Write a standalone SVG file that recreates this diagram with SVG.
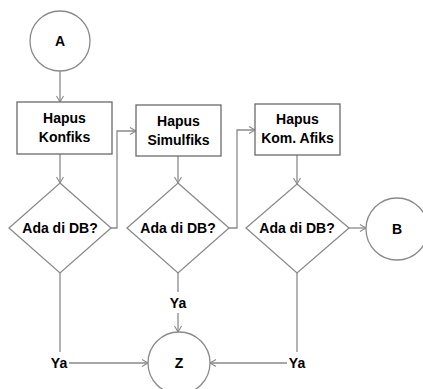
<svg xmlns="http://www.w3.org/2000/svg" width="423" height="389" viewBox="0 0 423 389">
<defs>
<style>
.t{font-family:"Liberation Sans",Arial,sans-serif;font-weight:bold;font-size:14px;fill:#000;text-anchor:middle}
.sh{fill:#fff;stroke:#8a8a8a;stroke-width:1.3}
.bx{fill:#fff;stroke:#6a6a6a;stroke-width:1.3}
.c{fill:none;stroke:#8a8a8a;stroke-width:1.3}
</style>
<marker id="ah" markerUnits="userSpaceOnUse" markerWidth="10" markerHeight="10" refX="7" refY="4" orient="auto">
<path d="M1,0.5 L7,4 L1,7.5" fill="none" stroke="#8a8a8a" stroke-width="1.1"/>
</marker>
</defs>
<rect width="423" height="389" fill="#fff"/>
<g id="connectors">
<line class="c" x1="60" y1="71" x2="60" y2="102" marker-end="url(#ah)"/>
<line class="c" x1="60" y1="154" x2="60" y2="183" marker-end="url(#ah)"/>
<polyline class="c" points="111,228 117,228 117,131 136,131" marker-end="url(#ah)"/>
<line class="c" x1="178" y1="156" x2="178" y2="183" marker-end="url(#ah)"/>
<polyline class="c" points="229,228 237,228 237,130 255,130" marker-end="url(#ah)"/>
<line class="c" x1="297" y1="155" x2="297" y2="184" marker-end="url(#ah)"/>
<line class="c" x1="349" y1="228" x2="366" y2="228" marker-end="url(#ah)"/>
<line class="c" x1="60" y1="273" x2="60" y2="352"/>
<line class="c" x1="69" y1="363" x2="148" y2="363" marker-end="url(#ah)"/>
<line class="c" x1="178" y1="273" x2="178" y2="292"/>
<line class="c" x1="178" y1="313" x2="178" y2="332" marker-end="url(#ah)"/>
<line class="c" x1="297" y1="273" x2="297" y2="352"/>
<line class="c" x1="287" y1="363" x2="210" y2="363" marker-end="url(#ah)"/>
</g>
<g id="A">
<circle class="sh" cx="60" cy="41" r="30"/>
<text class="t" x="60" y="46">A</text>
</g>
<g id="hapus-konfiks">
<rect class="bx" x="17" y="102" width="95" height="52"/>
<text class="t" x="64.5" y="123">Hapus</text>
<text class="t" x="64.5" y="142">Konfiks</text>
</g>
<g id="hapus-simulfiks">
<rect class="bx" x="136" y="105" width="85" height="51"/>
<text class="t" x="178.5" y="126">Hapus</text>
<text class="t" x="178.5" y="145">Simulfiks</text>
</g>
<g id="hapus-kom-afiks">
<rect class="bx" x="255" y="104" width="85" height="51"/>
<text class="t" x="297.5" y="124">Hapus</text>
<text class="t" x="297.5" y="143">Kom. Afiks</text>
</g>
<g id="db1">
<polygon class="sh" points="60,183 111,228 60,273 9,228"/>
<text class="t" x="60" y="233">Ada di DB?</text>
</g>
<g id="db2">
<polygon class="sh" points="178,183 229,228 178,273 127,228"/>
<text class="t" x="178" y="233">Ada di DB?</text>
</g>
<g id="db3">
<polygon class="sh" points="297,184 349,228 297,273 246,228"/>
<text class="t" x="297" y="233">Ada di DB?</text>
</g>
<g id="B">
<circle class="sh" cx="397" cy="229" r="31"/>
<text class="t" x="397" y="234">B</text>
</g>
<g id="Z">
<circle class="sh" cx="179" cy="363" r="31"/>
<text class="t" x="179" y="368">Z</text>
</g>
<g id="labels">
<text class="t" x="59" y="368">Ya</text>
<text class="t" x="178" y="308">Ya</text>
<text class="t" x="297" y="368">Ya</text>
</g>
</svg>
